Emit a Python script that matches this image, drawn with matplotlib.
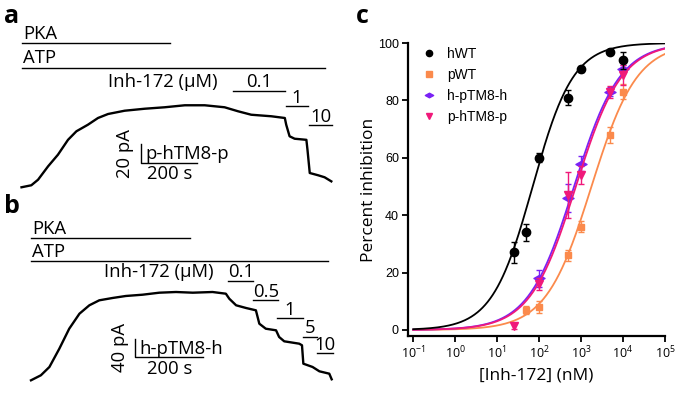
import numpy as np
import matplotlib
matplotlib.use("Agg")
import matplotlib.pyplot as plt
from matplotlib.lines import Line2D
from matplotlib.path import Path

plt.rcParams['font.family'] = ['Open Sans', 'DejaVu Sans']
plt.rcParams['mathtext.fontset'] = 'custom'
plt.rcParams['mathtext.rm'] = 'Liberation Sans'
plt.rcParams['mathtext.it'] = 'Liberation Sans:italic'

# ---------------- Panel a trace (time s, current pA) ----------------
trace_a_t = [0, 35, 59, 95, 130, 166, 196, 237, 273, 309, 368, 440, 511, 583, 654,
             725, 773, 820, 892, 940, 945, 957, 975, 1017, 1021, 1029, 1059, 1082, 1106]
trace_a_i = [0.8, 3, 9.1, 23.9, 36.6, 53, 62.4, 69.6, 77, 81.4, 85, 87.2, 88.8, 91, 91,
             88.8, 84.4, 80.6, 78.9, 77, 69.6, 56.9, 54.2, 53, 41.8, 16.5, 14, 11.8, 7.3]
# solution bars (start s, end s)
a_pka = (0, 530)
a_atp = (0, 1085)
a_doses = ['0.1', '1', '10']
a_dose_t = [(755, 942), (945, 1023), (1027, 1110)]

# ---------------- Panel b trace ----------------
trace_b_t = [0, 29, 54, 83, 112, 142, 171, 200, 239, 278, 327, 376, 425, 474, 532, 571,
             581, 601, 630, 659, 669, 688, 718, 727, 742, 786, 794, 798, 825, 845, 874, 881]
trace_b_i = [1.5, 12.5, 30.7, 70.7, 114.5, 147.4, 165.8, 176.7, 181.8, 186.2, 189, 193.4,
             194.9, 193.4, 194.9, 191.2, 180.2, 165.8, 159.9, 154.8, 125.5, 114.5, 111,
             96.4, 86.9, 81.7, 78.2, 37.9, 30.7, 21.2, 16, 3.7]
b_pka = (0, 466)
b_atp = (0, 871)
b_doses = ['0.1', '0.5', '1', '5', '10']
b_dose_t = [(578, 651), (651, 725), (720, 798), (798, 837), (837, 886)]

# ---------------- Panel c dose response ----------------
conc_hwt = [25, 50, 100, 500, 1000, 5000, 10000]
inh_hwt = [27, 34, 60, 81, 91, 97, 94]
err_hwt = [3.8, 3, 1.5, 2.7, 1, 1, 3]

conc_pwt = [50, 100, 500, 1000, 5000, 10000]
inh_pwt = [7, 8, 26, 36, 68, 83]
err_pwt = [1.5, 2, 2, 2, 2.9, 2.6]

conc_hph = [100, 500, 1000, 5000, 10000]
inh_hph = [18, 46, 58, 83, 91]
err_hph = [3, 5, 2.5, 1.5, 1.5]

conc_php = [25, 100, 500, 1000, 5000, 10000]
inh_php = [1.5, 16, 47, 54, 83, 89]
err_php = [1, 2, 8, 3, 2, 3.5]

# Hill fit parameters (IC50 nM, Hill slope)
fit_hwt = (70, 0.9)
fit_pwt = (1770, 0.8)
fit_hph = (680, 0.8)
fit_php = (750, 0.8)

x_ticks = [1e-1, 1e0, 1e1, 1e2, 1e3, 1e4, 1e5]
x_ticklabels = ['$\\mathregular{10^{-1}}$', '$\\mathregular{10^{0}}$', '$\\mathregular{10^{1}}$',
                '$\\mathregular{10^{2}}$', '$\\mathregular{10^{3}}$', '$\\mathregular{10^{4}}$',
                '$\\mathregular{10^{5}}$']
y_ticks = [0, 20, 40, 60, 80, 100]

c_black = '#000000'
c_orange = '#FB8A4C'
c_purple = '#7A22F5'
c_pink = '#F0197A'

W, H = 675, 394
fig = plt.figure(figsize=(W / 100, H / 100), dpi=100)

FS = 13.3


def trace_panel(ax, t, i, pka, atp, doses, dose_t, inh_right, rows, bar):
    ax.plot(t, i, color='black', lw=1.7, solid_joinstyle='round')
    pka_y, atp_y = rows[0], rows[1]
    ax.plot(pka, [pka_y, pka_y], color='black', lw=1.0)
    ax.annotate('PKA', (pka[0], pka_y), xytext=(1, 2.8), textcoords='offset points',
                ha='left', va='baseline', fontsize=FS)
    ax.plot(atp, [atp_y, atp_y], color='black', lw=1.0)
    ax.annotate('ATP', (atp[0], atp_y), xytext=(1, 3.2), textcoords='offset points',
                ha='left', va='baseline', fontsize=FS)
    for lab, (t0, t1), yy in zip(doses, dose_t, rows[2:]):
        ax.plot([t0, t1], [yy, yy], color='black', lw=1.0)
        ax.annotate(lab, ((t0 + t1) / 2, yy), xytext=(0, 2.4), textcoords='offset points',
                    ha='center', va='baseline', fontsize=FS)
    ax.annotate('Inh-172 (µM)', (inh_right, rows[2]), xytext=(0, 2.4), textcoords='offset points',
                ha='right', va='baseline', fontsize=FS)
    # scale bar
    t0, i0, dt, di, lab_t, lab_i, name = bar
    ax.plot([t0, t0, t0 + dt], [i0 + di, i0, i0], color='black', lw=1.0)
    ax.text(lab_t, i0 + di / 2, lab_i, rotation=90, ha='center', va='center', fontsize=FS)
    ax.annotate(name, (t0, i0), xytext=(3.0, 2.5), textcoords='offset points',
                ha='left', va='baseline', fontsize=FS)
    ax.annotate('%d s' % dt, (t0 + dt / 2, i0), xytext=(0, -2), textcoords='offset points',
                ha='center', va='top', fontsize=FS)
    ax.axis('off')


# Panel a
ax_a = fig.add_axes([0, 0.5, 340 / W, 0.5])
ax_a.set_xlim(-76.8, 1137)
ax_a.set_ylim(-9.9, 206.8)
trace_panel(ax_a, trace_a_t, trace_a_i, a_pka, a_atp, a_doses, a_dose_t, 701,
            [159.8, 132.3, 107, 90.2, 69.3],
            (428, 28, 200, 20, 369, '20 pA', 'p-hTM8-p'))

# Panel b
ax_b = fig.add_axes([0, 0, 340 / W, 0.5])
ax_b.set_xlim(-90.8, 905.4)
ax_b.set_ylim(-28.5, 403)
trace_panel(ax_b, trace_b_t, trace_b_i, b_pka, b_atp, b_doses, b_dose_t, 534,
            [312.5, 262.8, 219.7, 177.4, 137.3, 97, 60.7],
            (305, 52.6, 200, 40, 261, '40 pA', 'h-pTM8-h'))

fig.text(4 / W, 1 - 23 / H, 'a', fontsize=18, fontweight='bold', ha='left', va='baseline')
fig.text(4 / W, 1 - 213 / H, 'b', fontsize=18, fontweight='bold', ha='left', va='baseline')
fig.text(356 / W, 1 - 23 / H, 'c', fontsize=18, fontweight='bold', ha='left', va='baseline')

# Panel c
ax = fig.add_axes([408 / W, 58 / H, 257 / W, 293 / H])
ax.set_xscale('log')
ax.set_xlim(0.075, 1e5)
ax.set_ylim(-2.1, 100)
xx = np.logspace(-1, 5, 400)


def hill(x, p):
    ic, n = p
    return 100.0 / (1.0 + (ic / x) ** n)


diamond = Path([(-1, 0), (0, 0.55), (1, 0), (0, -0.55), (-1, 0)],
               [Path.MOVETO, Path.LINETO, Path.LINETO, Path.LINETO, Path.CLOSEPOLY])

series = [
    ('pWT', conc_pwt, inh_pwt, err_pwt, fit_pwt, c_orange, 's', 5.0),
    ('h-pTM8-h', conc_hph, inh_hph, err_hph, fit_hph, c_purple, diamond, 8.0),
    ('p-hTM8-p', conc_php, inh_php, err_php, fit_php, c_pink, 'v', 6.0),
    ('hWT', conc_hwt, inh_hwt, err_hwt, fit_hwt, c_black, 'o', 6.0),
]
handles = {}
for name, cx, cy, ce, fp, col, mk, ms in series:
    ax.plot(xx, hill(xx, fp), color=col, lw=1.3)
    ax.errorbar(cx, cy, yerr=ce, fmt='none', ecolor=col, elinewidth=1.0, capsize=2.5, capthick=1.0)
    ax.plot(cx, cy, linestyle='none', marker=mk, ms=ms, color=col, mec=col)
    handles[name] = Line2D([], [], linestyle='none', marker=mk, ms=ms * 0.75, color=col, mec=col)

order = ['hWT', 'pWT', 'h-pTM8-h', 'p-hTM8-p']
leg = ax.legend([handles[k] for k in order], order, loc='upper left',
                bbox_to_anchor=(422 / W, 1 - 47 / H), bbox_transform=fig.transFigure,
                frameon=False, handlelength=1.0, handletextpad=0.8, labelspacing=0.5,
                borderpad=0, borderaxespad=0,
                prop={'family': 'Liberation Sans', 'size': 10})

for s in ['top', 'right']:
    ax.spines[s].set_visible(False)
for s in ['left', 'bottom']:
    ax.spines[s].set_linewidth(1.6)
ax.set_xticks(x_ticks)
ax.set_xticklabels(x_ticklabels)
ax.set_yticks(y_ticks)
ax.set_yticklabels([str(v) for v in y_ticks])
ax.xaxis.set_minor_locator(matplotlib.ticker.LogLocator(base=10, subs=np.arange(2, 10)))
ax.xaxis.set_minor_formatter(matplotlib.ticker.NullFormatter())
ax.tick_params(axis='both', which='major', direction='out', length=4.5, width=1.3,
               labelsize=9, pad=2)
ax.tick_params(axis='x', which='minor', direction='out', length=2.5, width=1.0)
for lab in ax.get_yticklabels():
    lab.set_fontfamily('Liberation Sans')
ax.set_ylabel('Percent inhibition', fontsize=12.5, labelpad=0.5)
ax.set_xlabel('[Inh-172] (nM)', fontsize=12.5, labelpad=4)

fig.savefig('out.png', dpi=100)
